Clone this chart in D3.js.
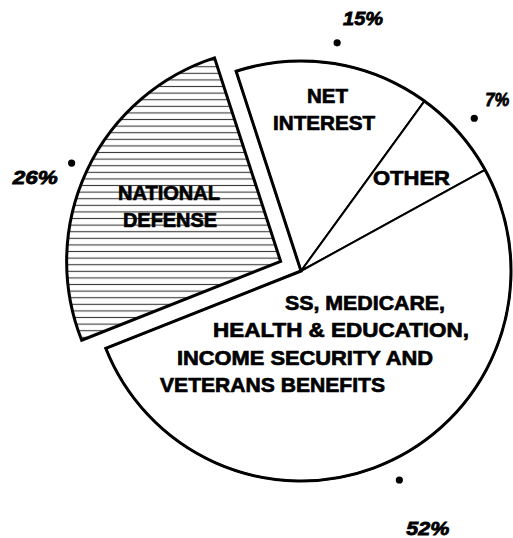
<!DOCTYPE html>
<html>
<head>
<meta charset="utf-8">
<script src="https://cdn.jsdelivr.net/npm/d3@7"></script>
<style>
  html, body { margin: 0; padding: 0; background: #fff; }
  svg { display: block; }
</style>
</head>
<body>
<svg id="chart" width="513" height="538"></svg>
<script>
// ---- data ----
const categories = ["NET INTEREST", "OTHER", "SS, MEDICARE, HEALTH & EDUCATION, INCOME SECURITY AND VETERANS BENEFITS", "NATIONAL DEFENSE"];
const values = [15, 7, 52, 26];
const pctLabels = ["15%", "7%", "52%", "26%"];
const explodedFlags = [false, false, false, true];
const sliceLabelLines = [
  ["NET", "INTEREST"],
  ["OTHER"],
  ["SS, MEDICARE,", "HEALTH & EDUCATION,", "INCOME SECURITY AND", "VETERANS BENEFITS"],
  ["NATIONAL", "DEFENSE"]
];

// ---- layout (positions / sizes / styles) ----
const cx = 301, cy = 271;
const R = 210, R_exploded = 214, explodeDist = 22.5, dotRadius = 231;
const startDeg = -18;
// label boxes for inside text: [x-left, baseline, width] per line
const insideLayout = [
  [[307, 103, 41], [273, 130, 102]],
  [[373, 185, 77]],
  [[285, 310, 160], [213, 337, 256], [177, 365, 256], [160, 392, 225]],
  [[118, 200, 102], [123, 227, 94]]
];
// percent label offsets from the dot: [dx, dy(baseline), width]
const pctLayout = [[6, -18, 40], [11, -12, 24], [7, 55, 43], [-59, 21, 45]];

const svg = d3.select("#chart");
const defs = svg.append("defs");
const pat = defs.append("pattern")
  .attr("id", "hatch").attr("patternUnits", "userSpaceOnUse")
  .attr("width", 12).attr("height", 6.6);
pat.append("rect").attr("width", 12).attr("height", 6.6).attr("fill", "#fff");
pat.append("line").attr("x1", 0).attr("x2", 12).attr("y1", 3.3).attr("y2", 3.3)
  .attr("stroke", "#3a3a3a").attr("stroke-width", 1.1);

const pie = d3.pie().sort(null)
  .startAngle(startDeg * Math.PI / 180)
  .endAngle((startDeg + 360) * Math.PI / 180)
  .value(d => d);
const arcs = pie(values);

const g = svg.append("g").attr("transform", `translate(${cx},${cy})`);

arcs.forEach((a, i) => {
  const mid = (a.startAngle + a.endAngle) / 2;
  const off = explodedFlags[i] ? explodeDist : 0;
  const ox = Math.sin(mid) * off, oy = -Math.cos(mid) * off;
  const r = explodedFlags[i] ? R_exploded : R;
  const arcGen = d3.arc().innerRadius(0).outerRadius(r);
  const sg = g.append("g").attr("transform", `translate(${ox},${oy})`);
  sg.append("path")
    .attr("d", arcGen(a))
    .attr("fill", explodedFlags[i] ? "url(#hatch)" : "#fff")
    .attr("stroke", "#000")
    .attr("stroke-width", explodedFlags[i] ? 3 : 2)
    .attr("stroke-linejoin", "miter");
  // dot
  const dx = Math.sin(mid) * dotRadius, dy = -Math.cos(mid) * dotRadius;
  sg.append("circle").attr("cx", dx).attr("cy", dy).attr("r", 3.6).attr("fill", "#000");
  // percent label
  const pl = pctLayout[i];
  sg.append("text")
    .attr("x", dx + pl[0]).attr("y", dy + pl[1])
    .attr("textLength", pl[2]).attr("lengthAdjust", "spacingAndGlyphs")
    .attr("font-family", "Liberation Sans, Arial, sans-serif")
    .attr("font-weight", "bold").attr("font-style", "italic")
    .attr("font-size", 19)
    .attr("fill", "#000").attr("stroke", "#000").attr("stroke-width", 0.8)
    .text(pctLabels[i]);
});

// thick outline around the non-exploded part of the pie
const mainIdx = explodedFlags.map((f, i) => f ? -1 : i).filter(i => i >= 0);
const outline = d3.arc().innerRadius(0).outerRadius(R)({
  startAngle: arcs[mainIdx[0]].startAngle,
  endAngle: arcs[mainIdx[mainIdx.length - 1]].endAngle
});
g.append("path").attr("d", outline).attr("fill", "none")
  .attr("stroke", "#000").attr("stroke-width", 3).attr("stroke-linejoin", "miter");

// inside labels (absolute layout)
sliceLabelLines.forEach((lines, i) => {
  lines.forEach((t, j) => {
    const L = insideLayout[i][j];
    svg.append("text")
      .attr("x", L[0]).attr("y", L[1])
      .attr("textLength", L[2]).attr("lengthAdjust", "spacingAndGlyphs")
      .attr("font-family", "Liberation Sans, Arial, sans-serif")
      .attr("font-weight", "bold")
      .attr("font-size", 21)
      .attr("fill", "#000").attr("stroke", "#000").attr("stroke-width", 0.7)
      .text(t);
  });
});
</script>
</body>
</html>
